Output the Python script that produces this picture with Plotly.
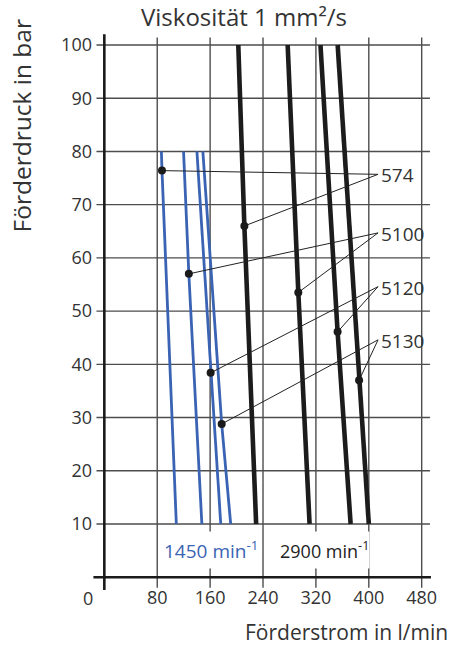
import plotly.graph_objects as go

# Pump types and their characteristic curves (flow in l/min vs. pressure in bar)
pump_types = ["574", "5100", "5120", "5130"]

# 1450 min^-1: curves run from 80 bar down to 10 bar
flow_1450_top = [86.3, 119.8, 140.0, 149.0]      # at 80 bar
flow_1450_mark = [87.2, 127.8, 160.8, 177.5]
press_1450_mark = [76.4, 57.0, 38.4, 28.8]
flow_1450_bottom = [108.9, 147.5, 176.1, 191.1]  # at 10 bar

# 2900 min^-1: curves run from 100 bar down to 10 bar
flow_2900_top = [202.6, 277.3, 326.9, 352.9]     # at 100 bar
flow_2900_mark = [211.8, 293.4, 352.8, 385.3]
press_2900_mark = [66.0, 53.5, 46.1, 37.0]
flow_2900_bottom = [229.6, 310.4, 372.5, 400.0]  # at 10 bar

press_top_1450 = 80
press_top_2900 = 100
press_bottom = 10

x_ticks = [80, 160, 240, 320, 400, 480]
y_ticks = [10, 20, 30, 40, 50, 60, 70, 80, 90, 100]

FONT = "Open Sans"
TEXT = "#333333"
BLUE = "#3b63b3"
CURVE_BLACK = "#1c1c1c"
GRID = "#4d4d4d"

W, H = 449, 648
M_L, M_R, M_T, M_B = 93, 14, 34, 58
PLOT_W = W - M_L - M_R
PLOT_H = H - M_T - M_B
X_RANGE = [-17.14, 497.1]
Y_RANGE = [-2.405, 102.07]


def px_to_paper(px, py):
    """Pixel position on the page -> paper coordinates."""
    return (px - M_L) / PLOT_W, (H - M_B - py) / PLOT_H


fig = go.Figure()

# grid
shapes = []
for y in y_ticks:
    shapes.append(dict(type="line", xref="x", yref="y", x0=-11.9, x1=492.5, y0=y, y1=y,
                       line=dict(color=GRID, width=1.4), layer="below"))
for x in x_ticks:
    shapes.append(dict(type="line", xref="x", yref="y", x0=x, x1=x, y0=-2.0, y1=101.4,
                       line=dict(color=GRID, width=1.4), layer="below"))
# axes
shapes.append(dict(type="line", xref="x", yref="y", x0=0, x1=0, y0=-2.4, y1=102.0,
                   line=dict(color="#1a1a1a", width=2.6), layer="below"))
shapes.append(dict(type="line", xref="x", yref="y", x0=-16.5, x1=494.0, y0=0, y1=0,
                   line=dict(color="#1a1a1a", width=2.6), layer="below"))

# curves
for i in range(len(pump_types)):
    fig.add_trace(go.Scatter(
        x=[flow_1450_top[i], flow_1450_mark[i], flow_1450_bottom[i]],
        y=[press_top_1450, press_1450_mark[i], press_bottom],
        mode="lines", line=dict(color=BLUE, width=2.8), hoverinfo="skip", showlegend=False))
    fig.add_trace(go.Scatter(
        x=[flow_2900_top[i], flow_2900_mark[i], flow_2900_bottom[i]],
        y=[press_top_2900, press_2900_mark[i], press_bottom],
        mode="lines", line=dict(color=CURVE_BLACK, width=4.6), hoverinfo="skip", showlegend=False))

# leader lines from the type labels to the marked points
label_x = 414.0
label_y = [75.7, 64.7, 54.6, 44.6]
for i, name in enumerate(pump_types):
    fig.add_trace(go.Scatter(
        x=[flow_1450_mark[i], label_x, flow_2900_mark[i]],
        y=[press_1450_mark[i], label_y[i], press_2900_mark[i]],
        mode="lines", line=dict(color="#222222", width=1), hoverinfo="skip", showlegend=False))
    fig.add_annotation(x=label_x, y=label_y[i], xref="x", yref="y", text=name,
                       showarrow=False, xanchor="left", yanchor="middle", xshift=1, yshift=-1,
                       font=dict(family=FONT, size=19, color=TEXT, weight=400))

fig.add_trace(go.Scatter(
    x=flow_1450_mark + flow_2900_mark, y=press_1450_mark + press_2900_mark,
    mode="markers", marker=dict(color="#1a1a1a", size=8), hoverinfo="skip", showlegend=False))

# speed labels (white box knocks out the grid behind them)
fig.add_annotation(x=160.8, y=5.1, xref="x", yref="y", text="1450 min<sup>-1</sup>",
                   showarrow=False, bgcolor="white", height=36, borderpad=0,
                   font=dict(family=FONT, size=19, color=BLUE, weight=500))
fig.add_annotation(x=332.9, y=5.1, xref="x", yref="y", text="2900 min<sup>-1</sup>",
                   showarrow=False, bgcolor="white", height=36, borderpad=0,
                   font=dict(family=FONT, size=18, color="#222222", weight=400))

# origin label
ox, oy = px_to_paper(88, 598)
fig.add_annotation(x=ox, y=oy, xref="paper", yref="paper", text="0", showarrow=False,
                   xanchor="center", yanchor="middle",
                   font=dict(family=FONT, size=18, color=TEXT, weight=400))

# titles
tx, ty = px_to_paper(245, 17)
fig.add_annotation(x=tx, y=ty, xref="paper", yref="paper", text="Viskosität 1 mm²/s",
                   showarrow=False, xanchor="center", yanchor="middle",
                   font=dict(family=FONT, size=24, color=TEXT, weight=400))
yx, yy = px_to_paper(22, 126)
fig.add_annotation(x=yx, y=yy, xref="paper", yref="paper", text="Förderdruck in bar",
                   showarrow=False, textangle=-90, xanchor="center", yanchor="middle",
                   font=dict(family=FONT, size=24.5, color=TEXT, weight=400))
xx, xy = px_to_paper(452, 632)
fig.add_annotation(x=xx, y=xy, xref="paper", yref="paper", text="Förderstrom in l/min",
                   showarrow=False, xanchor="right", yanchor="middle",
                   font=dict(family=FONT, size=21, color=TEXT, weight=400))

fig.update_layout(
    width=W, height=H,
    margin=dict(l=M_L, r=M_R, t=M_T, b=M_B),
    paper_bgcolor="white", plot_bgcolor="white",
    shapes=shapes,
    xaxis=dict(range=X_RANGE, showgrid=False, zeroline=False, showline=False,
               tickvals=x_ticks, ticktext=[str(v) for v in x_ticks], ticks="",
               ticklabelstandoff=-5,
               tickfont=dict(family=FONT, size=18, color=TEXT, weight=400), fixedrange=True),
    yaxis=dict(range=Y_RANGE, showgrid=False, zeroline=False, showline=False,
               tickvals=y_ticks, ticktext=[str(v) for v in y_ticks], ticks="",
               ticklabelstandoff=0,
               tickfont=dict(family=FONT, size=18, color=TEXT, weight=400), fixedrange=True),
)

fig.write_html("out.html")
